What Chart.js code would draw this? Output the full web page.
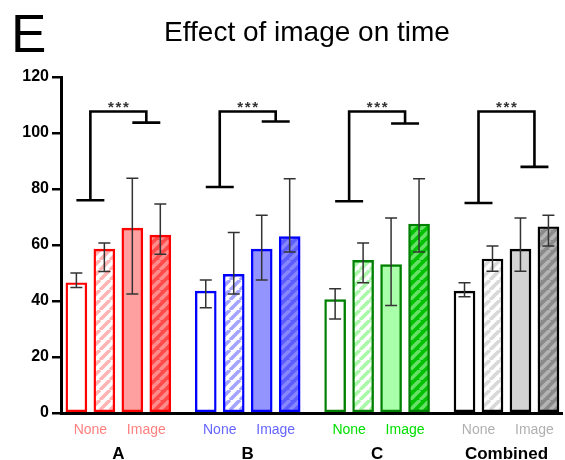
<!DOCTYPE html>
<html><head><meta charset="utf-8">
<script src="https://cdn.jsdelivr.net/npm/chart.js@4.4.0/dist/chart.umd.min.js"></script>
<style>html,body{margin:0;padding:0;background:#fff}#wrap{width:565px;height:460px}</style>
</head><body><div id="wrap"><canvas id="c" width="565" height="460"></canvas></div>
<script>
const groups = ['A', 'B', 'C', 'Combined'];
const conditionLabels = ['None', 'Image'];
const meanA = [46.5, 58.5, 66, 63.5];
const lowA = [44.8, 50.5, 42.5, 56.7];
const highA = [50, 60.7, 83.8, 74.6];
const meanB = [43.5, 49.5, 58.5, 63];
const lowB = [37.6, 42.5, 47.5, 57.5];
const highB = [47.5, 64.5, 70.6, 83.7];
const meanC = [40.5, 54.5, 53, 67.5];
const lowC = [33.6, 46.5, 38.4, 57.5];
const highC = [44.4, 60.7, 69.6, 83.7];
const meanComb = [43.5, 55, 58.5, 66.5];
const lowComb = [41.5, 50.6, 50.6, 59.6];
const highComb = [46.5, 59.6, 69.6, 70.6];
const bracketLeftCap = [76, 80.7, 75.6, 75];
const bracketRightCap = [103.7, 104.1, 103.4, 87.9];
const bracketTop = [107.7, 107.7, 107.7, 107.7];
const significance = ['***', '***', '***', '***'];
const yTicks = [0, 20, 40, 60, 80, 100, 120];

const means = [meanA, meanB, meanC, meanComb];
const lows = [lowA, lowB, lowC, lowComb];
const highs = [highA, highB, highC, highComb];

const borderCols = ['#ff0000', '#0000ff', '#008000', '#000000'];
const labelCols = ['#ff8080', '#6666ff', '#00e000', '#b0b0b0'];
const stripeLight = ['#ffb4b4', '#a4a4ff', '#a8f8a8', '#d8d8d8'];
const solidFill = ['#ffa0a0', '#9494ff', '#aaffaa', '#d3d3d3'];
const darkBg = ['#ff4a4a', '#5c5cff', '#00c000', '#8a8a8a'];
const darkStripe = ['#ff8c8c', '#8686ff', '#66e066', '#b4b4b4'];

function hatch(bg, fg) {
  const s = 10;
  const c = document.createElement('canvas');
  c.width = s; c.height = s;
  const g = c.getContext('2d');
  g.fillStyle = bg; g.fillRect(0, 0, s, s);
  g.strokeStyle = fg; g.lineWidth = 3.6;
  g.beginPath();
  for (let k = -1; k <= 1; k++) { g.moveTo(k * s, s); g.lineTo(k * s + s, 0); }
  g.stroke();
  return g.createPattern(c, 'repeat');
}

const GROUP_STEP = 4.625;
const pos = (g, i) => g * GROUP_STEP + i;

const points = [], fills = [], borders = [], errLow = [], errHigh = [];
groups.forEach((name, g) => {
  for (let i = 0; i < 4; i++) {
    points.push({ x: pos(g, i), y: means[g][i] });
    errLow.push(lows[g][i]); errHigh.push(highs[g][i]);
    borders.push(borderCols[g]);
  }
  fills.push('#ffffff', hatch('#ffffff', stripeLight[g]), solidFill[g], hatch(darkBg[g], darkStripe[g]));
});

const condTickPos = [], condTickText = [], condTickCol = [];
groups.forEach((n, g) => {
  condTickPos.push(pos(g, 0.5), pos(g, 2.5));
  condTickText.push(conditionLabels[0], conditionLabels[1]);
  condTickCol.push(labelCols[g], labelCols[g]);
});
const groupTickPos = groups.map((n, g) => pos(g, 1.5));

const FONT = '"Liberation Sans", Arial, Helvetica, sans-serif';

const annot = {
  id: 'annot',
  afterDatasetsDraw(chart) {
    const ctx = chart.ctx, xs = chart.scales.x, ys = chart.scales.y;
    ctx.save();
    ctx.strokeStyle = '#333333'; ctx.lineWidth = 1.5;
    points.forEach((p, k) => {
      const px = xs.getPixelForValue(p.x);
      const yl = ys.getPixelForValue(errLow[k]), yh = ys.getPixelForValue(errHigh[k]);
      ctx.beginPath();
      ctx.moveTo(px, yl); ctx.lineTo(px, yh);
      ctx.moveTo(px - 6, yl); ctx.lineTo(px + 6, yl);
      ctx.moveTo(px - 6, yh); ctx.lineTo(px + 6, yh);
      ctx.stroke();
    });
    ctx.strokeStyle = '#000'; ctx.lineWidth = 2.6; ctx.lineCap = 'butt';
    groups.forEach((n, g) => {
      const x0 = xs.getPixelForValue(pos(g, 0)), x1 = xs.getPixelForValue(pos(g, 1));
      const x2 = xs.getPixelForValue(pos(g, 2)), x3 = xs.getPixelForValue(pos(g, 3));
      const xl = (x0 + x1) / 2, xr = (x2 + x3) / 2;
      const yt = ys.getPixelForValue(bracketTop[g]);
      const yl = ys.getPixelForValue(bracketLeftCap[g]);
      const yr = ys.getPixelForValue(bracketRightCap[g]);
      ctx.beginPath();
      ctx.moveTo(x0, yl); ctx.lineTo(x1, yl);
      ctx.moveTo(xl, yl); ctx.lineTo(xl, yt); ctx.lineTo(xr, yt); ctx.lineTo(xr, yr);
      ctx.moveTo(x2, yr); ctx.lineTo(x3, yr);
      ctx.stroke();
      ctx.fillStyle = '#333';
      ctx.font = 'bold 15px ' + FONT;
      ctx.textAlign = 'center'; ctx.textBaseline = 'alphabetic';
      const cx = (xl + xr) / 2;
      const stars = significance[g];
      for (let s = 0; s < stars.length; s++) {
        ctx.fillText(stars[s], cx + (s - (stars.length - 1) / 2) * 7.5, yt + 1);
      }
    });
    ctx.fillStyle = '#000';
    ctx.textAlign = 'left'; ctx.textBaseline = 'alphabetic';
    ctx.font = '53px ' + FONT;
    ctx.fillText('E', 11, 52);
    ctx.textAlign = 'center';
    ctx.font = '28px ' + FONT;
    ctx.fillText('Effect of image on time', 307, 41);
    ctx.restore();
  }
};

new Chart(document.getElementById('c'), {
  type: 'bar',
  data: {
    datasets: [{
      data: points,
      backgroundColor: fills,
      borderColor: borders,
      borderWidth: 2.4,
      borderSkipped: false,
      barThickness: 21,
      grouped: false
    }]
  },
  options: {
    responsive: false,
    devicePixelRatio: 1,
    animation: false,
    layout: { padding: { top: 77, right: 3, bottom: 0, left: 0 } },
    plugins: { legend: { display: false }, tooltip: { enabled: false }, title: { display: false } },
    scales: {
      x: {
        type: 'linear', position: 'bottom', min: -0.55, max: 17.36, offset: false,
        grid: { display: false, drawTicks: false },
        border: { display: true, width: 3, color: '#000' },
        afterBuildTicks: s => { s.ticks = condTickPos.map(v => ({ value: v })); },
        afterFit: s => { s.height = 29; },
        ticks: {
          autoSkip: false, maxRotation: 0, padding: 9,
          font: { family: FONT, size: 14 },
          color: c => condTickCol[c.index],
          callback: (v, i) => condTickText[i]
        }
      },
      x2: {
        type: 'linear', position: 'bottom', min: -0.55, max: 17.36, offset: false,
        grid: { display: false, drawTicks: false },
        border: { display: false },
        afterBuildTicks: s => { s.ticks = groupTickPos.map(v => ({ value: v })); },
        afterFit: s => { s.height = 18; },
        ticks: {
          autoSkip: false, maxRotation: 0, padding: 2,
          font: { family: FONT, size: 17, weight: 'bold' },
          color: '#000',
          callback: (v, i) => groups[i]
        }
      },
      y: {
        min: 0, max: 120,
        afterBuildTicks: s => { s.ticks = yTicks.map(v => ({ value: v })); },
        afterFit: s => { s.width = 61; },
        grid: { drawOnChartArea: false, drawTicks: true, tickLength: 9, color: '#000', lineWidth: 2.5 },
        border: { display: true, width: 3, color: '#000' },
        ticks: { font: { family: FONT, size: 16, weight: 'bold' }, color: '#000', padding: 3 }
      }
    }
  },
  plugins: [annot]
});
</script>
</body></html>
